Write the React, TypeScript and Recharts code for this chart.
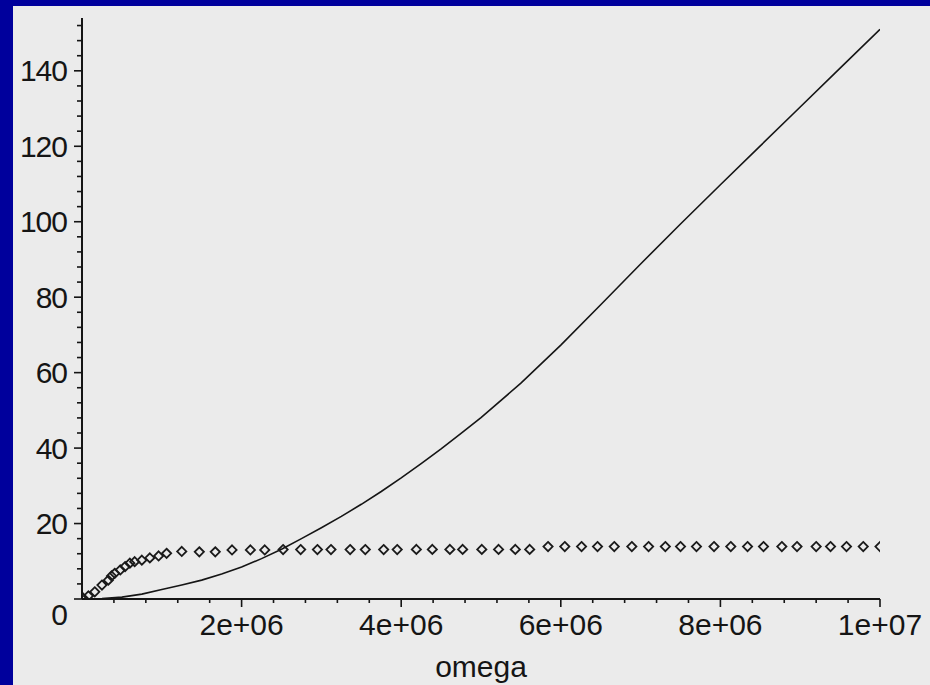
import { Scatter, ScatterChart, XAxis, YAxis } from "recharts";

// omega in units of 1e6
const diamondOmega = [
  0.016, 0.08, 0.16, 0.25, 0.33, 0.37, 0.41, 0.48, 0.54, 0.6, 0.66, 0.75, 0.85, 0.96, 1.06, 1.25, 1.47,
  1.67, 1.88, 2.11, 2.29, 2.52, 2.74, 2.95, 3.12, 3.36, 3.55, 3.78, 3.95, 4.19, 4.39, 4.61, 4.77, 5.01,
  5.22, 5.43, 5.61, 5.84, 6.05, 6.26, 6.46, 6.67, 6.89, 7.1, 7.31, 7.5, 7.7, 7.92, 8.13, 8.34, 8.54,
  8.77, 8.96, 9.2, 9.38, 9.58, 9.79, 10.0,
];
const diamondValue = [
  0.2, 0.8, 1.9, 3.7, 5.0, 6.1, 6.8, 7.7, 8.6, 9.5, 9.9, 10.3, 10.9, 11.4, 12.1, 12.6, 12.5,
  12.5, 13.0, 13.0, 13.0, 13.1, 13.1, 13.1, 13.1, 13.1, 13.1, 13.1, 13.1, 13.15, 13.15, 13.15, 13.15, 13.15,
  13.15, 13.15, 13.15, 13.9, 13.9, 13.9, 13.9, 13.9, 13.9, 13.9, 13.9, 13.9, 13.9, 13.9, 13.9, 13.9, 13.9,
  13.9, 13.9, 13.9, 13.9, 13.9, 13.9, 13.9,
];

const curveOmega = [
  0, 0.25, 0.5, 0.75, 1, 1.25, 1.5, 1.75, 2, 2.25, 2.5, 2.75, 3, 3.25, 3.5, 3.75, 4, 4.25, 4.5, 4.75, 5,
  5.5, 6, 6.5, 7, 7.5, 8, 8.5, 9, 9.5, 10,
];
const curveValue = [
  0, 0.15, 0.5, 1.3, 2.5, 3.7, 5.0, 6.6, 8.5, 10.7, 13.2, 16.0, 18.9, 21.9, 25.1, 28.5, 32.1, 35.9, 39.8, 43.9, 48.1,
  57.2, 67.3, 78, 88.8, 99.4, 109.8, 120.1, 130.4, 140.7, 151,
];

const yLabels = [0, 20, 40, 60, 80, 100, 120, 140];
const xLabelValues = [2e6, 4e6, 6e6, 8e6, 1e7];
const xLabelText = ["2e+06", "4e+06", "6e+06", "8e+06", "1e+07"];

const yTicks = Array.from({ length: 39 }, (_, i) => i * 4);
const xTicks = Array.from({ length: 26 }, (_, i) => i * 4e5);

const diamonds = diamondOmega.map((w, i) => ({ x: w * 1e6, y: diamondValue[i] }));
const curve = curveOmega.map((w, i) => ({ x: w * 1e6, y: curveValue[i] }));

const ink = "#151515";
const font = "'Liberation Sans', Arial, sans-serif";

function Diamond(props: any) {
  const { cx, cy } = props;
  const r = 4.6;
  return (
    <path
      d={`M${cx},${cy - r} L${cx + r},${cy} L${cx},${cy + r} L${cx - r},${cy} Z`}
      fill="none"
      stroke="#1a1a1a"
      strokeWidth={1.8}
    />
  );
}

function YTick(props: any) {
  const { x, y, payload } = props;
  const v = payload.value;
  const major = yLabels.includes(v);
  return (
    <g>
      <line x1={x - (major ? 8 : 5)} x2={x + 1} y1={y} y2={y} stroke={ink} strokeWidth={1.6} />
      {major && (
        <text
          x={x - 15}
          y={y + (v === 0 ? 15 : 0)}
          textAnchor="end"
          dominantBaseline="central"
          fontSize={30}
          fontFamily={font}
          fill={ink}
          letterSpacing={-1}
        >
          {v}
        </text>
      )}
    </g>
  );
}

function XTick(props: any) {
  const { x, y, payload } = props;
  const idx = xLabelValues.findIndex((v) => Math.abs(v - payload.value) < 1);
  const major = idx >= 0;
  if (payload.value === 0) return <g />;
  return (
    <g>
      <line x1={x} x2={x} y1={y} y2={y + (major ? 8 : 4)} stroke={ink} strokeWidth={1.6} />
      {major && (
        <text x={x} y={y + 36} textAnchor="middle" fontSize={30} fontFamily={font} fill={ink}>
          {xLabelText[idx]}
        </text>
      )}
    </g>
  );
}

export default function App() {
  return (
    <div style={{ position: "fixed", left: 0, top: 0, width: 930, height: 685, background: "#00009c" }}>
      <div style={{ position: "absolute", left: 13, top: 6, width: 917, height: 679, background: "#ebebeb" }} />
      <div style={{ position: "absolute", left: 0, top: 0 }}>
        <ScatterChart width={930} height={685} margin={{ top: 18, right: 50, bottom: 0, left: 0 }}>
          <XAxis
            type="number"
            dataKey="x"
            domain={[0, 1e7]}
            ticks={xTicks}
            interval={0}
            tickSize={0}
            tickMargin={0}
            tick={<XTick />}
            height={86}
            axisLine={{ stroke: ink, strokeWidth: 2 }}
            tickLine={false}
            allowDataOverflow
          />
          <YAxis
            type="number"
            dataKey="y"
            domain={[0, 154]}
            ticks={yTicks}
            interval={0}
            tickSize={0}
            tickMargin={0}
            tick={<YTick />}
            width={82}
            axisLine={{ stroke: ink, strokeWidth: 2 }}
            tickLine={false}
            allowDataOverflow
          />
          <Scatter
            data={curve}
            line={{ stroke: ink, strokeWidth: 1.6 }}
            lineType="joint"
            shape={() => <g />}
            isAnimationActive={false}
          />
          <Scatter data={diamonds} shape={(p: any) => <Diamond {...p} />} isAnimationActive={false} />
          <text x={481} y={677} textAnchor="middle" fontSize={30} fontFamily={font} fill={ink}>
            omega
          </text>
        </ScatterChart>
      </div>
    </div>
  );
}
